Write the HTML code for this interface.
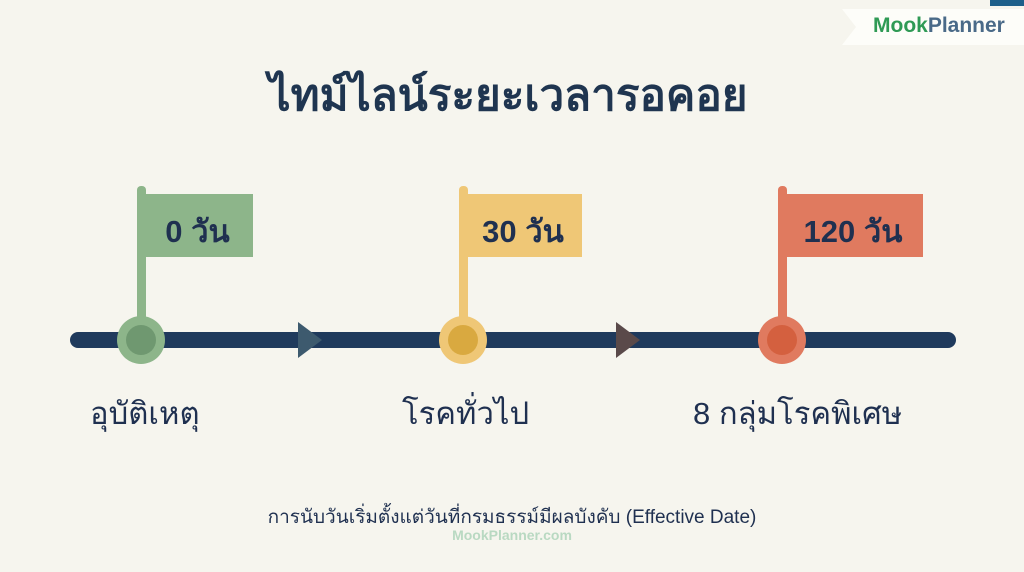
<!DOCTYPE html>
<html><head><meta charset="utf-8"><style>
body{margin:0;width:1024px;height:572px;background:#f6f5ee;overflow:hidden;position:relative;font-family:"Liberation Sans","Noto Sans CJK SC",sans-serif}
.t{position:absolute;white-space:nowrap}
</style></head><body>
<svg width="1024" height="572" style="position:absolute;left:0;top:0">
<rect x="990" y="0" width="34" height="6" fill="#1d5f8a"/>
<polygon points="842,9 1024,9 1024,45 842,45 856,27" fill="#fdfdf9"/>
<rect x="70" y="332" width="886" height="16" rx="8" fill="#1f3a5c"/>
<polygon points="298,322 322,340 298,358" fill="#3d5a6e"/>
<polygon points="616,322 640,340 616,358" fill="#5a4a4a"/>
<rect x="137" y="186" width="9" height="150" rx="4" fill="#8db58a"/>
<rect x="142" y="194" width="111" height="63" fill="#8db58a"/>
<circle cx="141" cy="340" r="24" fill="#8db58a"/><circle cx="141" cy="340" r="15" fill="#6f9870"/>
<rect x="459" y="186" width="9" height="150" rx="4" fill="#efc776"/>
<rect x="464" y="194" width="118" height="63" fill="#efc776"/>
<circle cx="463" cy="340" r="24" fill="#efc776"/><circle cx="463" cy="340" r="15" fill="#d9a940"/>
<rect x="778" y="186" width="9" height="150" rx="4" fill="#e07a5f"/>
<rect x="783" y="194" width="140" height="63" fill="#e07a5f"/>
<circle cx="782" cy="340" r="24" fill="#e07a5f"/><circle cx="782" cy="340" r="15" fill="#d4603f"/>
</svg>
<div class="t" style="left:873px;top:14px;font-size:21px;font-weight:bold;color:#4a6a88"><span style="color:#2f9a55">Mook</span>Planner</div>
<div class="t" style="left:0;width:1016px;text-align:center;top:60px;font-size:44px;font-weight:bold;color:#1f3550">ไทม์ไลน์ระยะเวลารอคอย</div>
<div class="t" style="left:142px;width:111px;text-align:center;top:206px;font-size:31px;font-weight:bold;color:#1f3050">0 วัน</div>
<div class="t" style="left:464px;width:118px;text-align:center;top:206px;font-size:31px;font-weight:bold;color:#1f3050">30 วัน</div>
<div class="t" style="left:783px;width:140px;text-align:center;top:206px;font-size:31px;font-weight:bold;color:#1f3050">120 วัน</div>
<div class="t" style="left:90px;top:388px;font-size:31px;color:#1f3050">อุบัติเหตุ</div>
<div class="t" style="left:402px;top:388px;font-size:31px;color:#1f3050">โรคทั่วไป</div>
<div class="t" style="left:693px;top:388px;font-size:31px;color:#1f3050">8 กลุ่มโรคพิเศษ</div>
<div class="t" style="left:0;width:1024px;text-align:center;top:502px;font-size:19px;color:#1f3050">การนับวันเริ่มตั้งแต่วันที่กรมธรรม์มีผลบังคับ (Effective Date)</div>
<div class="t" style="left:0;width:1024px;text-align:center;top:527px;font-size:14px;font-weight:bold;color:#b9d9c2">MookPlanner.com</div>
</body></html>
